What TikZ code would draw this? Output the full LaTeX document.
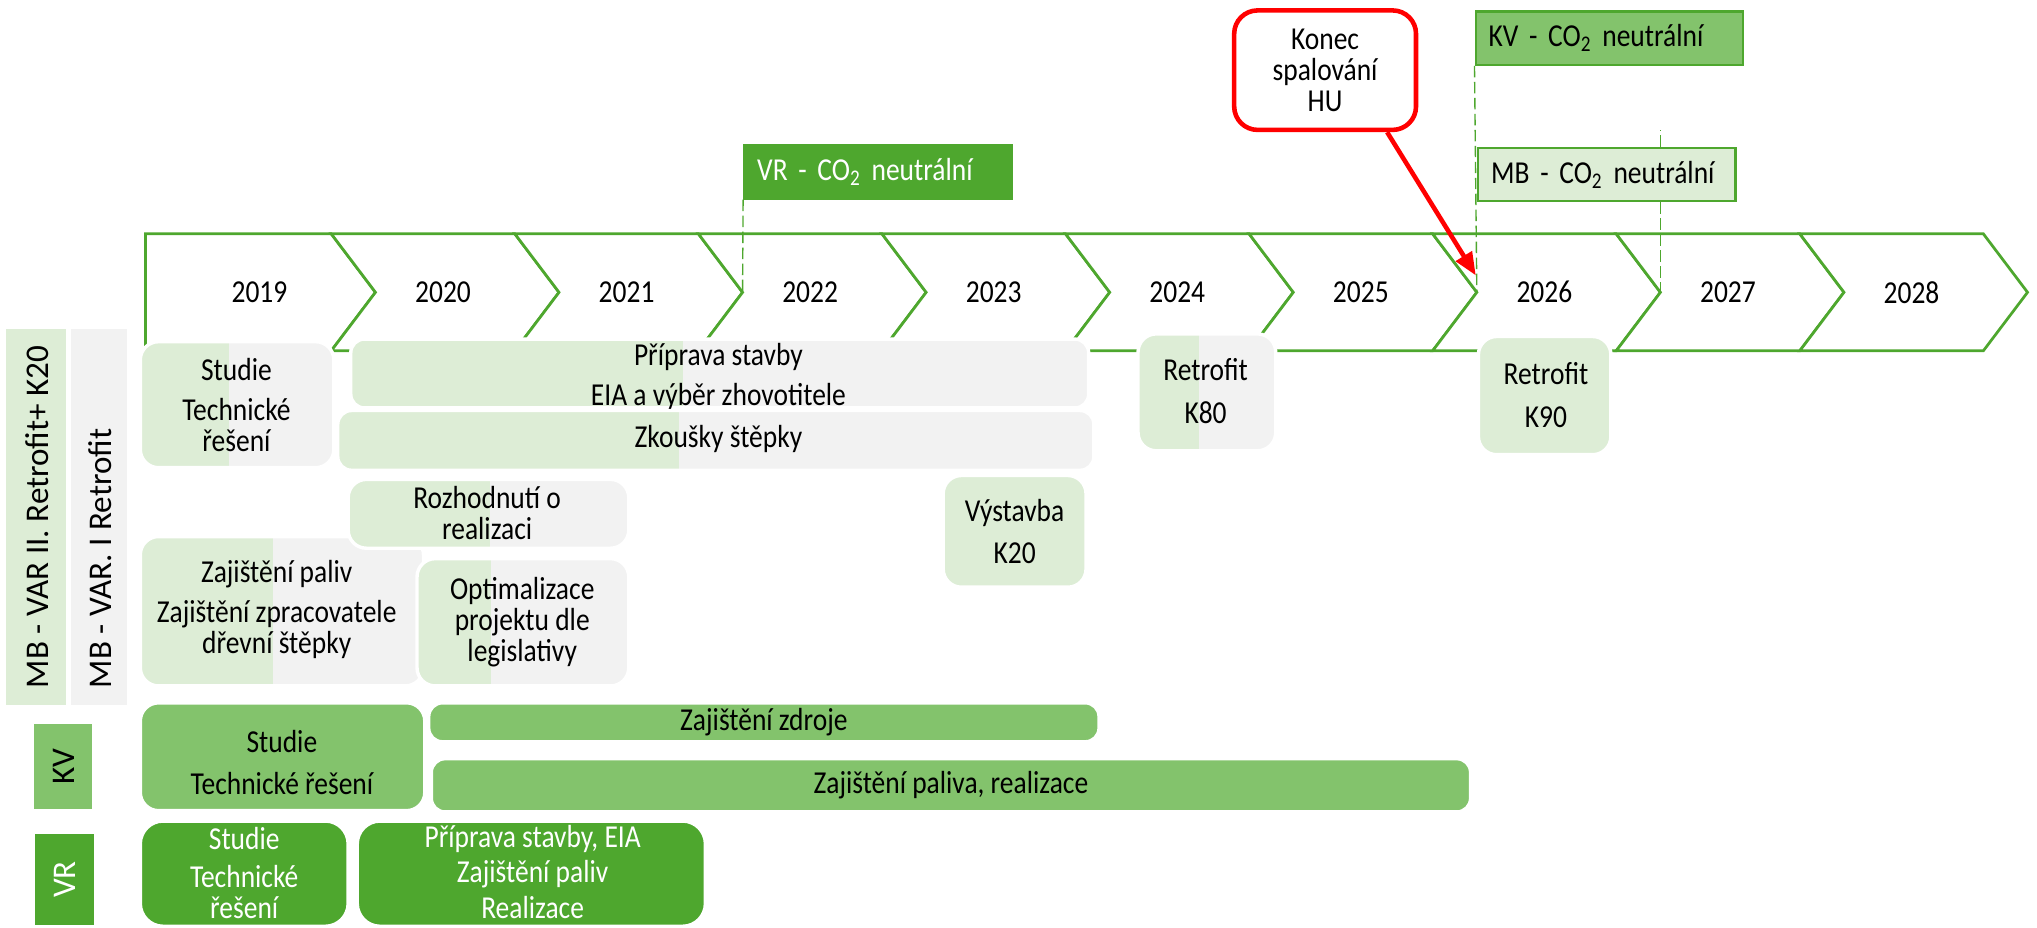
\documentclass[tikz,border=0pt]{standalone}
\usepackage{fontspec}
\setmainfont{Carlito}[FakeStretch=0.86]
\newfontfamily\rowfont{Carlito}
\usetikzlibrary{arrows.meta,calc}

\definecolor{tlgreen}{RGB}{78,167,46}
\definecolor{kvgreen}{RGB}{131,195,108}
\definecolor{mbgreen}{RGB}{221,237,214}
\definecolor{mbgray}{RGB}{242,242,242}

% two-tone box: (#2,#3) top left, (#4,#5) bottom right, green part up to x=#6
\newcommand{\mbshape}[6][8pt]{%
  \begin{scope}
    \clip[rounded corners=#1] (#2,#3) rectangle (#4,#5);
    \fill[mbgray] (#2,#3) rectangle (#4,#5);
    \fill[mbgreen] (#2,#3) rectangle (#6,#5);
  \end{scope}
  \draw[white,line width=1.5pt,rounded corners=#1] (#2,#3) rectangle (#4,#5);}

\begin{document}
\begin{tikzpicture}[x=0.02cm,y=-0.02cm,
  txt/.style={font=\fontsize{14}{13.6}\selectfont,align=center,inner sep=0pt},
  chev/.style={draw=tlgreen,line width=1.2pt,fill=white},
  mstone/.style={txt,draw=tlgreen,line width=1pt,anchor=north west,align=left,
    text width=3.72cm,inner xsep=0.2cm,minimum height=0.82cm},
  msline/.style={tlgreen,line width=0.6pt,dash pattern=on 5pt off 2pt},
  callout/.style={txt,draw=red,line width=2pt,fill=white,rounded corners=0.36cm,
    minimum width=2.8cm,minimum height=1.84cm},
  redarrow/.style={red,line width=2pt,-{Triangle[length=10pt,width=8pt]}},
  rowlab/.style={rotate=90,font=\rowfont\fontsize{14.5}{16}\selectfont,inner sep=0pt},
  kvbox/.style={fill=kvgreen,draw=white,line width=1.5pt,rounded corners=8pt},
  vrbox/.style={fill=tlgreen,draw=white,line width=1.5pt,rounded corners=10pt}]
  \useasboundingbox (0,0) rectangle (1568,714);

  % Timeline of years
  \foreach \yr [count=\i] in {2019,...,2028} {
    \pgfmathsetmacro\R{255+141.3*(\i-1)}
    \pgfmathsetmacro\L{\R-141.3}
    \ifnum\i=1
      \draw[chev] (112,180) -- (\R,180) -- (\R+34,225) -- (\R,270) -- (112,270) -- cycle;
    \else
      \draw[chev] (\L,180) -- (\R,180) -- (\R+34,225) -- (\R,270) -- (\L,270) -- (\L+34,225) -- cycle;
    \fi
    \coordinate (tip\i) at (\R+34,225);
    \node[txt] (y\yr) at (\L+86,225) {\yr};
  }

  % Milestones
  \node[mstone,fill=tlgreen,text=white] (vrco2) at (572,111) {VR - CO\textsubscript{2} neutrální};
  \node[mstone,fill=kvgreen] (kvco2) at (1135,8) {KV - CO\textsubscript{2} neutrální};
  \node[mstone,fill=mbgreen,text width=3.56cm] (mbco2) at (1137,113) {MB - CO\textsubscript{2} neutrální};
  \draw[msline] (vrco2.south west) -- (tip3);
  \draw[msline] (mbco2.south -| tip8) -- (tip8);
  \draw[msline] (mbco2.north -| tip8) -- ++(0,-13);
  \draw[msline] (kvco2.south west) -- (tip7);

  % End of brown coal
  \node[callout] (konec) at (1020,54) {Konec\\spalování\\HU};
  \coordinate (hit26) at (1136,212);
  \draw[redarrow] (konec.-45) -- (hit26);

  % Row labels
  \fill[mbgreen] (5,253) rectangle (51,543);
  \fill[mbgray] (55,253) rectangle (98,543);
  \node[rowlab,anchor=west] (var2) at (29,530) {MB - VAR II. Retrofit+ K20};
  \node[rowlab,anchor=west] (var1) at (77,530) {MB - VAR. I Retrofit};
  \fill[kvgreen] (26,557) rectangle (71,623);
  \node[rowlab] (kvlab) at (49,590) {KV};
  \fill[tlgreen] (27,642) rectangle (72,712);
  \node[rowlab,text=white] (vrlab) at (50,677) {VR};

  % MB boxes
  \mbshape[6pt]{270}{261}{838}{314}{526}
  \node[txt] (priprava) at (553,290) {Příprava stavby\\[4pt]EIA a výběr zhovotitele};
  \mbshape[6pt]{260}{316}{842}{362}{523}
  \node[txt] (zkousky) at (553,338) {Zkoušky štěpky};
  \mbshape{108}{263}{257}{360}{176}
  \node[txt] (mbstudie) at (182,312) {Studie\\[4pt]Technické\\řešení};
  \mbshape{876}{257}{982}{347}{923}
  \node[txt] (k80) at (928,301) {Retrofit\\[5pt]K80};
  \mbshape{1138}{259}{1240}{350}{1240}
  \node[txt] (k90) at (1190,304) {Retrofit\\[5pt]K90};
  \mbshape{108}{413}{326}{528}{210}
  \node[txt] (paliv) at (213,469) {Zajištění paliv\\[4pt]Zajištění zpracovatele\\dřevní štěpky};
  \mbshape{268}{369}{484}{422}{377}
  \node[txt] (rozhodnuti) at (375,395) {Rozhodnutí o\\realizaci};
  \mbshape{321}{430}{484}{528}{378}
  \node[txt] (optim) at (402,479) {Optimalizace\\projektu dle\\legislativy};
  \mbshape{726}{366}{836}{452}{836}
  \node[txt] (k20) at (781,409) {Výstavba\\[5pt]K20};

  % KV boxes
  \filldraw[kvbox] (108,541) rectangle (327,624);
  \node[txt] (kvstudie) at (217,587) {Studie\\[5pt]Technické řešení};
  \filldraw[kvbox,rounded corners=6pt] (330,541) rectangle (846,571);
  \node[txt] (zdroje) at (588,556) {Zajištění zdroje};
  \filldraw[kvbox,rounded corners=6pt] (332,584) rectangle (1132,625);
  \node[txt] (palivaKV) at (732,604) {Zajištění paliva, realizace};

  % VR boxes
  \filldraw[vrbox] (108,632) rectangle (268,713);
  \node[txt,text=white] (vrstudie) at (188,672) {Studie\\[3pt]Technické\\řešení};
  \filldraw[vrbox] (275,632) rectangle (543,713);
  \node[txt,text=white] (vrreal) at (410,671) {Příprava stavby, EIA\\[2pt]Zajištění paliv\\[2pt]Realizace};
\end{tikzpicture}
\end{document}
